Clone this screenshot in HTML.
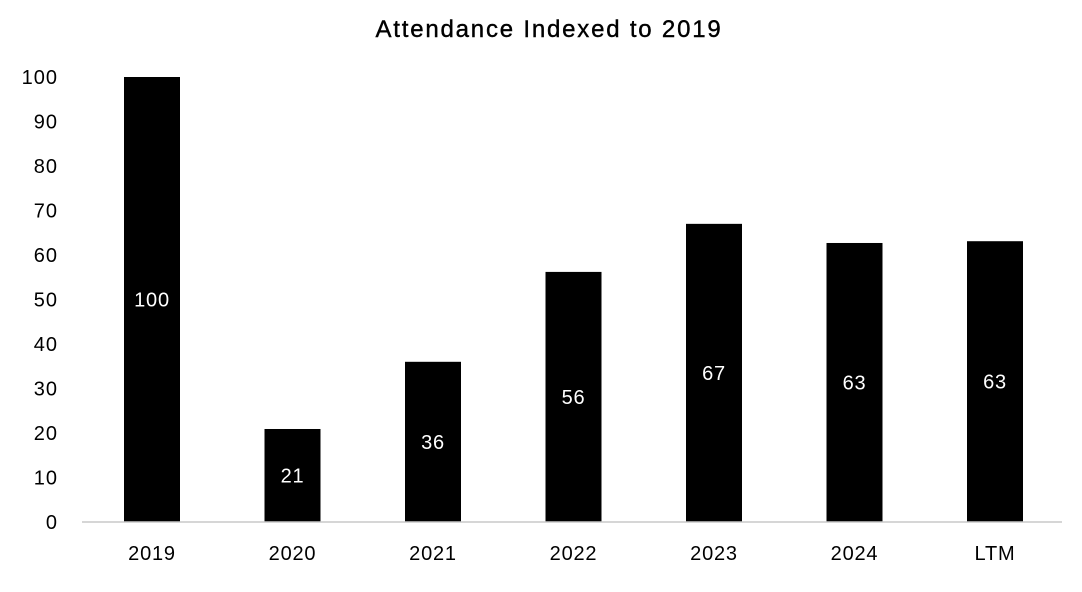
<!DOCTYPE html>
<html><head><meta charset="utf-8"><style>
body{margin:0;background:#fff;}
svg{display:block;font-family:"Liberation Sans",sans-serif;}
</style></head><body>
<svg id="chart" width="1082" height="592">
<text x="549" y="37" text-anchor="middle" font-size="24" font-weight="normal" letter-spacing="1.8" stroke="#000" stroke-width="0.4" fill="#000">Attendance Indexed to 2019</text>
<g id="yaxis"></g><g id="bars"></g>
<line x1="82" y1="522" x2="1062" y2="522" stroke="#c8c8c8" stroke-width="1.5"/>
</svg>
<script>
const categories=["2019","2020","2021","2022","2023","2024","LTM"];
const values=[100,20.9,36,56.2,67,62.7,63.1];
const labels=["100","21","36","56","67","63","63"];
const yTicks=[0,10,20,30,40,50,60,70,80,90,100];
const NS="http://www.w3.org/2000/svg";
const y=v=>522-v*4.45;
const x=i=>152+i*140.5;
const ya=document.getElementById('yaxis'),bg=document.getElementById('bars');
function mk(t,a,p){const e=document.createElementNS(NS,t);for(const k in a)e.setAttribute(k,a[k]);p.appendChild(e);return e;}
yTicks.forEach(t=>{const e=mk('text',{x:58,y:y(t)+7,'text-anchor':'end','font-size':20,'letter-spacing':1,fill:'#000'},ya);e.textContent=t;

});
categories.forEach((c,i)=>{
const r=mk('rect',{x:x(i)-28,y:y(values[i]),width:56,height:522-y(values[i]),fill:'#000'},bg);


const l=mk('text',{x:x(i),y:(y(values[i])+522)/2+7,'text-anchor':'middle','font-size':20,'letter-spacing':0.8,fill:'#fff'},bg);l.textContent=labels[i];


const xl=mk('text',{x:x(i),y:560,'text-anchor':'middle','font-size':20,'letter-spacing':0.8,fill:'#000'},bg);xl.textContent=c;


});
</script>
</body></html>
